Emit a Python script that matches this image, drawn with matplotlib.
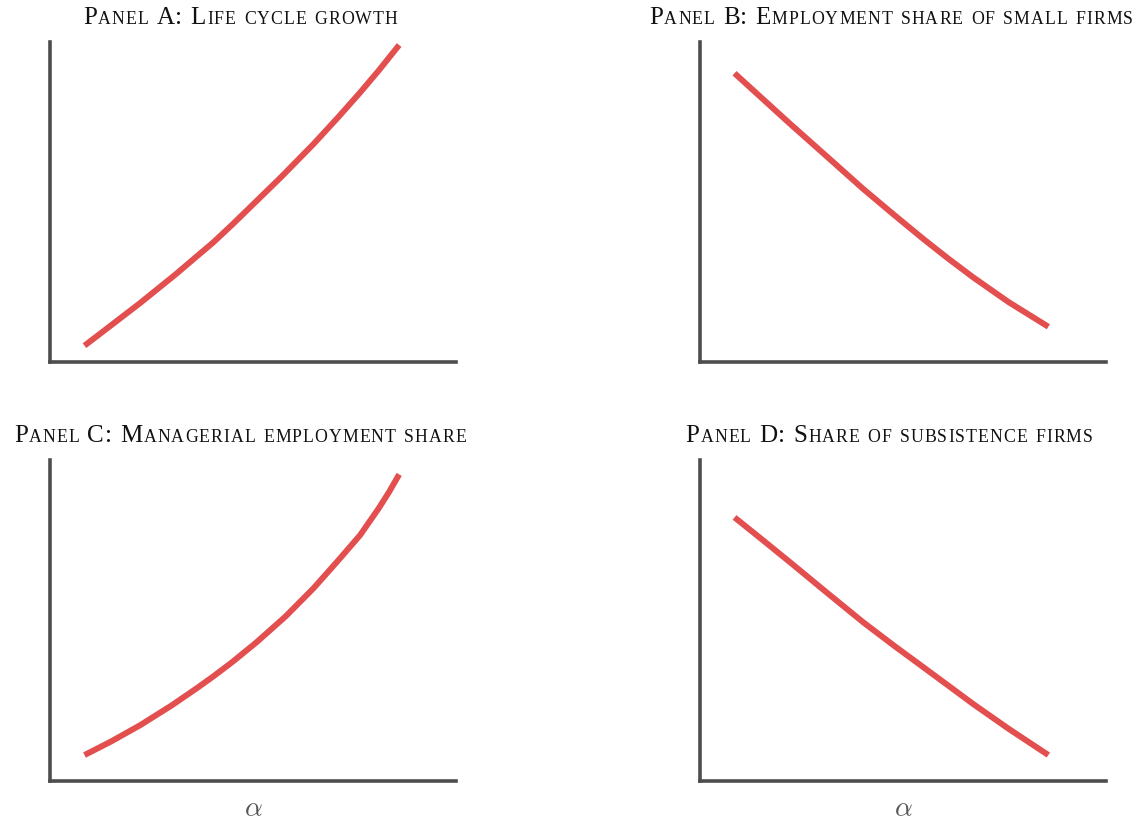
import matplotlib
matplotlib.use('Agg')
import matplotlib.pyplot as plt
from matplotlib import font_manager
from matplotlib.ft2font import FT2Font

W, H = 1143, 820

# Comparative statics in alpha (x and y as fractions of each panel's axis range)
alpha_a = [0.085, 0.150, 0.222, 0.310, 0.360, 0.402, 0.450, 0.493,
           0.570, 0.649, 0.710, 0.764, 0.810, 0.860]
growth_a = [0.051, 0.114, 0.184, 0.274, 0.328, 0.373, 0.430, 0.483,
            0.578, 0.680, 0.764, 0.841, 0.910, 0.989]

alpha_b = [0.085, 0.150, 0.222, 0.310, 0.402, 0.480, 0.550, 0.610,
           0.673, 0.760, 0.858]
small_share_b = [0.901, 0.826, 0.743, 0.644, 0.540, 0.457, 0.384, 0.324,
                 0.264, 0.187, 0.110]

alpha_c = [0.085, 0.150, 0.222, 0.300, 0.360, 0.402, 0.450, 0.509,
           0.580, 0.649, 0.710, 0.764, 0.810, 0.835, 0.860]
manager_share_c = [0.080, 0.122, 0.173, 0.235, 0.287, 0.325, 0.371, 0.432,
                   0.512, 0.600, 0.687, 0.766, 0.850, 0.900, 0.955]

alpha_d = [0.085, 0.150, 0.222, 0.310, 0.402, 0.480, 0.550, 0.610,
           0.673, 0.760, 0.858]
subsistence_d = [0.821, 0.755, 0.681, 0.589, 0.494, 0.419, 0.354, 0.298,
                 0.239, 0.162, 0.080]

titles = ["Panel A: Life cycle growth",
          "Panel B: Employment share of small firms",
          "Panel C: Managerial employment share",
          "Panel D: Share of subsistence firms"]

LINE_COLOR = '#E34F4F'
SPINE_COLOR = '#4d4d4d'
SERIF = 'Liberation Serif'
BIG, SMALL = 18.0, 12.8
TRACK = 1.0  # extra letter spacing in pixels

fig = plt.figure(figsize=(W / 100, H / 100), dpi=100)

font_path = font_manager.findfont(font_manager.FontProperties(family=SERIF))
ft = FT2Font(font_path)


def advance(ch, size):
    ft.set_size(size, 100)
    g = ft.load_char(ord(ch))
    return g.linearHoriAdvance / 65536.0


def small_caps(s, cx, baseline):
    """Draw s in faked small caps, centred at cx (pixels), baseline in pixels from top."""
    glyphs = []
    for ch in s:
        size = SMALL if ch.islower() else BIG
        c = ch.upper()
        glyphs.append((c, size, advance(c, size)))
    total = sum(g[2] for g in glyphs) + TRACK * (len(glyphs) - 1)
    x = cx - total / 2
    for c, size, adv in glyphs:
        if c != ' ':
            fig.text(x / W, 1 - baseline / H, c, fontsize=size,
                     family=SERIF, va='baseline', ha='left', color='#111111')
        x += adv + TRACK


# panel boxes in pixels: left, top, right, bottom
boxes = [(50, 42.5, 456, 363), (700, 42.5, 1106, 363),
         (50, 461, 456, 781.7), (700, 461, 1106, 781.7)]
series = [(alpha_a, growth_a), (alpha_b, small_share_b),
          (alpha_c, manager_share_c), (alpha_d, subsistence_d)]
title_pos = [(240, 24), (891, 24), (240, 442), (889, 442)]

for i, ((l, t, r, b), (xs, ys)) in enumerate(zip(boxes, series)):
    ax = fig.add_axes([l / W, 1 - b / H, (r - l) / W, (b - t) / H])
    ax.plot(xs, ys, color=LINE_COLOR, lw=4.3, solid_capstyle='butt',
            solid_joinstyle='round')
    ax.set_xlim(0, 1)
    ax.set_ylim(0, 1)
    ax.set_xticks([])
    ax.set_yticks([])
    for side in ['top', 'right']:
        ax.spines[side].set_visible(False)
    for side in ['left', 'bottom']:
        ax.spines[side].set_color(SPINE_COLOR)
        ax.spines[side].set_linewidth(2.6)
        ax.spines[side].set_capstyle('projecting')
    small_caps(titles[i], *title_pos[i])
    if i >= 2:
        fig.text(((l + r) / 2) / W, 1 - 808 / H, r'$\alpha$', fontsize=20,
                 math_fontfamily='cm', color='#555555', ha='center', va='center')

fig.savefig('out.png', dpi=100)
